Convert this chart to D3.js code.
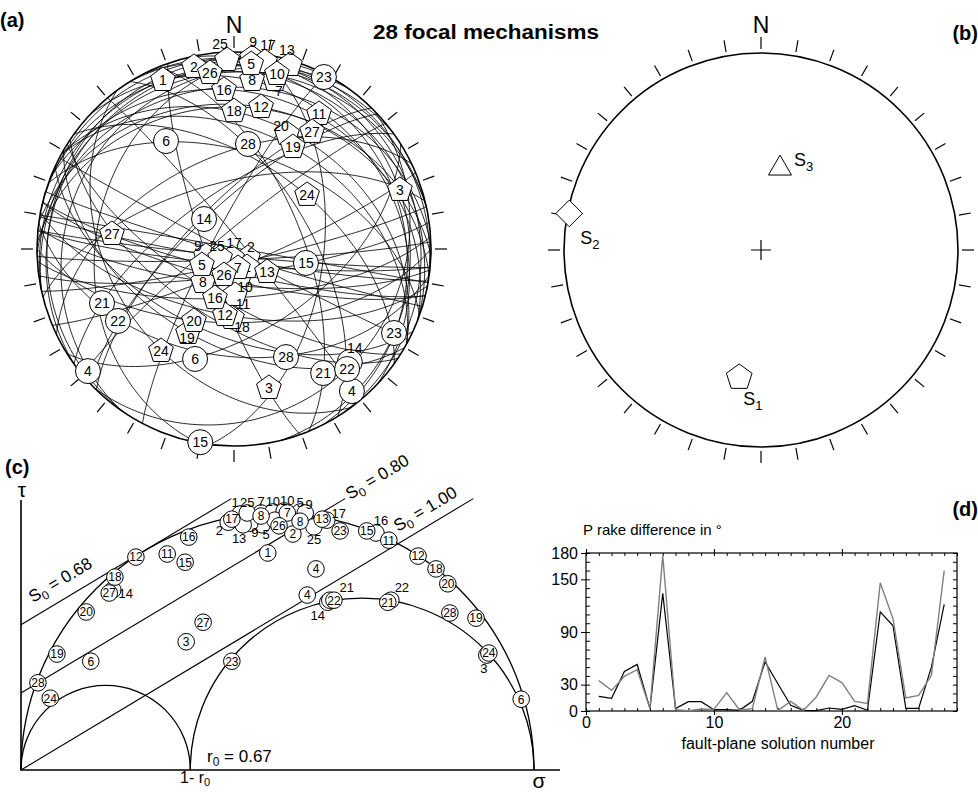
<!DOCTYPE html>
<html><head><meta charset="utf-8">
<script src="https://cdn.jsdelivr.net/npm/d3@7"></script>
<style>
body{margin:0;background:#fff;}
svg{font-family:"Liberation Sans",Arial,Helvetica,sans-serif;}
</style></head><body>
<svg id="chart" width="978" height="792"></svg>
<script>
// ================= DATA =================
const mechanismIds = [1,2,3,4,5,6,7,8,9,10,11,12,13,14,15,16,17,18,19,20,21,22,23,24,25,26,27,28];
const mechanismSymbol = ["pentagon","pentagon","pentagon","circle","pentagon","circle","pentagon","pentagon","pentagon","pentagon",
  "pentagon","pentagon","pentagon","circle","circle","pentagon","pentagon","pentagon","pentagon","pentagon",
  "circle","circle","circle","pentagon","pentagon","pentagon","pentagon","circle"];
// poles of nodal plane A / B (= slip vectors), trend & plunge in degrees, lower hemisphere
const poleATrend  = [337.2,347.6,70.4,230.1,5.3,327.8,13.6,6.1,5.4,13.8,32.2,10.8,16.9,315.0,101.0,356.4,9.4,0.0,30.0,24.7,247.7,238.2,27.6,53.5,357.9,352.2,33.7,7.6];
const poleAPlunge = [7.7,6.0,11.6,3.8,6.4,35.5,12.8,14.8,3.0,9.4,20.1,27.5,2.7,72.5,59.5,20.2,4.3,30.7,40.0,35.9,28.4,31.3,1.7,51.9,4.5,10.8,29.3,45.3];
const poleBTrend  = [144.2,122.7,165.9,140.3,243.4,199.5,168.1,223.2,256.0,167.5,178.8,187.8,124.9,134.3,189.9,201.2,192.5,181.7,208.7,209.1,144.3,136.7,117.7,215.6,237.3,201.0,277.0,154.3];
const poleBPlunge = [80.8,83.2,28.1,7.0,75.2,40.5,82.0,71.3,78.1,78.6,71.0,62.3,73.4,19.0,0.5,68.2,86.2,61.3,49.8,55.6,23.5,17.4,9.1,36.5,83.2,78.5,37.6,39.0];
// labels drawn beside hidden symbols in (a): [id, plane, dx, dy]
const stereoLabelShifts = [[25,"A",-7,-16],[9,"A",1,-16],[17,"A",3,-17],[13,"A",-3,-15],[7,"A",4,11],[20,"A",-6,-8],
  [9,"B",-8,-10],[25,"B",-3,-12],[17,"B",2,-15],[2,"B",3,-11],[10,"B",5,11],[11,"B",8,9],[18,"B",10,9],[19,"B",-1,5],[14,"B",5,-14]];
// symbols drawn underneath the others in (a)
const stereoBehind = [[8,"B"],[8,"A"],[2,"A"]];

// (b) principal stress axes
const stressNames   = ["1","2","3"];
const stressTrend   = [189.7,280.8,13.1];
const stressPlunge  = [34.7,1.0,55.0];
const stressSymbol  = ["pentagon","diamond","triangle"];

// (c) Mohr diagram, normalised normal stress sigma and shear stress tau for plane A / B
const mohrSigmaA = [0.481,0.530,0.322,0.575,0.544,0.136,0.468,0.468,0.554,0.491,0.285,0.224,0.587,0.179,0.320,0.327,0.411,0.183,0.070,0.127,0.602,0.610,0.622,0.057,0.441,0.503,0.172,0.033];
const mohrTauA   = [0.423,0.460,0.250,0.392,0.503,0.212,0.501,0.495,0.501,0.503,0.421,0.415,0.489,0.351,0.405,0.454,0.489,0.376,0.226,0.308,0.331,0.331,0.466,0.140,0.501,0.476,0.345,0.170];
const mohrSigmaB = [0.427,0.404,0.908,0.558,0.470,0.975,0.519,0.544,0.446,0.513,0.717,0.774,0.433,0.598,0.674,0.692,0.596,0.809,0.887,0.832,0.715,0.721,0.411,0.912,0.571,0.495,0.355,0.836];
const mohrTauB   = [0.499,0.483,0.224,0.341,0.478,0.138,0.501,0.485,0.481,0.505,0.448,0.417,0.478,0.327,0.466,0.462,0.487,0.392,0.296,0.363,0.327,0.331,0.212,0.228,0.474,0.487,0.288,0.306];
const mohrLabelShifts = [[1,"B",-5,-12],[2,"B",-9,8],[3,"B",-3,13],[5,"A",0,-10],[5,"B",4,10],[7,"A",0,-12],[9,"A",4,-9],[9,"B",5,9],
  [10,"A",0,-11],[10,"B",3,-11],[13,"B",-4,14],[14,"A",13,3],[14,"B",-10,13],[16,"B",5,-13],[17,"B",12,-7],[21,"A",17,-13],
  [22,"B",11,-13],[25,"A",0,-11],[25,"B",0,12]];
const mohrHidden = [[26,"B"]];
const r0 = 0.67;
const frictionMu = 0.6;
const s0Labels = ["0.68","0.80","1.00"];
const s0Intercepts = [0.283,0.150,0.0];
const s0TauEnd = 0.529;

// (d) P rake difference
const solutionNumbers = [1,2,3,4,5,6,7,8,9,10,11,12,13,14,15,16,17,18,19,20,21,22,23,24,25,26,27,28];
const rakeDiffBlack = [16.7,14.4,45,53,2.7,134,2.7,10.6,10.6,1.5,1.5,0.8,11,56,31,6.5,0.8,0.4,3.4,1.9,6,0.8,113,97,3,3,50,121.5];
const rakeDiffGray  = [34.6,23.5,39.5,47,2.7,177,1.5,0.4,2.3,1.9,21,1.1,2.7,61.5,0.4,11,0.8,16,40.6,32.3,11,8.7,146,105,14.8,17.8,40.6,160];
const rakeTickLabels = [0,30,90,150,180];
const solutionTickLabels = [0,10,20];

// ================= DRAWING =================
const svg = d3.select("#chart");
const toGeo = (t,p) => [180 - t, p];
function stereo(cx, cy, R){
  return d3.geoAzimuthalEqualArea().rotate([0,-90]).scale(R/Math.SQRT2).translate([cx,cy]).clipAngle(90).precision(0.2);
}
function pentagonPath(R){
  const pts = d3.range(5).map(k=>{const a=(-90+72*k)*Math.PI/180; return [R*Math.cos(a),R*Math.sin(a)];});
  return "M"+pts.map(p=>p.join(",")).join("L")+"Z";
}
function diamondPath(R){ return `M0,${-R}L${R},0L0,${R}L${-R},0Z`; }
function trianglePath(s){ const h=s*Math.sqrt(3)/2; return `M0,${-2*h/3}L${s/2},${h/3}L${-s/2},${h/3}Z`; }

function drawFrame(g, cx, cy, R){
  g.append("circle").attr("cx",cx).attr("cy",cy).attr("r",R).attr("fill","none").attr("stroke","#000").attr("stroke-width",1.6);
  d3.range(0,360,10).forEach(az=>{
    const a = az*Math.PI/180, sx=Math.sin(a), sy=-Math.cos(a);
    g.append("line").attr("x1",cx+sx*(R+4)).attr("y1",cy+sy*(R+4)).attr("x2",cx+sx*(R+16)).attr("y2",cy+sy*(R+16))
      .attr("stroke","#000").attr("stroke-width",1.2);
  });
  g.append("text").attr("x",cx).attr("y",33).attr("text-anchor","middle").attr("font-size",23).text("N");
}

// ---------- panel (a) ----------
const projA = stereo(234,249,197);
const pathA = d3.geoPath(projA);
const gA = svg.append("g");
const gcA = gA.append("g").attr("fill","none").attr("stroke","#000").attr("stroke-width",0.85);
mechanismIds.forEach((id,i)=>{
  [[poleATrend[i],poleAPlunge[i]],[poleBTrend[i],poleBPlunge[i]]].forEach(([t,p])=>{
    const ring = d3.geoCircle().center(toGeo(t,p)).radius(90).precision(1)().coordinates[0];
    gcA.append("path").attr("d", pathA({type:"LineString", coordinates: ring}));
  });
});
drawFrame(gA,234,249,197);

const shiftKey = (id,pl)=>id+pl;
const aShift = new Map(stereoLabelShifts.map(d=>[shiftKey(d[0],d[1]),[d[2],d[3]]]));
const aBehind = new Set(stereoBehind.map(d=>shiftKey(d[0],d[1])));
const aMarks = [];
mechanismIds.forEach((id,i)=>{
  aMarks.push({id,pl:"A",t:poleATrend[i],p:poleAPlunge[i],sym:mechanismSymbol[i]});
  aMarks.push({id,pl:"B",t:poleBTrend[i],p:poleBPlunge[i],sym:mechanismSymbol[i]});
});
aMarks.forEach(m=>{ m.xy = projA(toGeo(m.t,m.p)); m.shift = aShift.get(shiftKey(m.id,m.pl)); m.back = aBehind.has(shiftKey(m.id,m.pl)); });
const aOrder = aMarks.filter(m=>m.shift).concat(aMarks.filter(m=>!m.shift&&m.back), aMarks.filter(m=>!m.shift&&!m.back));
const gMA = gA.append("g");
aOrder.forEach(m=>{
  const g = gMA.append("g").attr("transform",`translate(${m.xy[0]},${m.xy[1]})`);
  if(m.sym==="circle") g.append("circle").attr("r",12.5).attr("fill","#fff").attr("stroke","#000").attr("stroke-width",1);
  else g.append("path").attr("d",pentagonPath(13)).attr("fill","#fff").attr("stroke","#000").attr("stroke-width",1);
  if(!m.shift) g.append("text").attr("text-anchor","middle").attr("dy","0.36em").attr("font-size",14).text(m.id);
});
aOrder.filter(m=>m.shift).forEach(m=>{
  gMA.append("text").attr("x",m.xy[0]+m.shift[0]).attr("y",m.xy[1]+m.shift[1]).attr("text-anchor","middle")
    .attr("dy","0.36em").attr("font-size",14).text(m.id);
});

svg.append("text").attr("x",0).attr("y",27).attr("font-size",20).attr("font-weight","bold").text("(a)");
svg.append("text").attr("x",373).attr("y",39).attr("font-size",20).attr("font-weight","bold")
  .attr("textLength",226).attr("lengthAdjust","spacingAndGlyphs").text(mechanismIds.length+" focal mechanisms");

// ---------- panel (b) ----------
const projB = stereo(761,250,197);
const gB = svg.append("g");
drawFrame(gB,761,250,197);
gB.append("path").attr("d","M751,250H771M761,240V260").attr("stroke","#000").attr("stroke-width",1.2);
const sLabelOff = [[4,28],[11,31],[14,-2]];
stressNames.forEach((n,i)=>{
  const xy = projB(toGeo(stressTrend[i],stressPlunge[i]));
  const d = stressSymbol[i]==="pentagon"?pentagonPath(13.5):stressSymbol[i]==="diamond"?diamondPath(13.3):trianglePath(23);
  gB.append("path").attr("transform",`translate(${xy[0]},${xy[1]})`).attr("d",d).attr("fill","#fff").attr("stroke","#000").attr("stroke-width",1);
  const t = gB.append("text").attr("x",xy[0]+sLabelOff[i][0]).attr("y",xy[1]+sLabelOff[i][1]).attr("font-size",18);
  t.append("tspan").text("S");
  t.append("tspan").attr("font-size",13).attr("dy",5).text(n);
});
svg.append("text").attr("x",978).attr("y",40).attr("text-anchor","end").attr("font-size",20).attr("font-weight","bold").text("(b)");

// ---------- panel (c) ----------
const xC = d3.scaleLinear().domain([0,1]).range([21,534]);
const yC = d3.scaleLinear().domain([0,1]).range([770,257]);
const gC = svg.append("g");
function semi(a,b){ const r=(xC(b)-xC(a))/2; return `M${xC(a)},${yC(0)}A${r},${r} 0 0 1 ${xC(b)},${yC(0)}`; }
[[0,1],[0,1-r0],[1-r0,1]].forEach(([a,b])=>gC.append("path").attr("d",semi(a,b)).attr("fill","none").attr("stroke","#000").attr("stroke-width",1.3));
gC.append("path").attr("d",`M${xC(0)},500V${yC(0)}H560`).attr("fill","none").attr("stroke","#000").attr("stroke-width",1.6);
const lineC = d3.line().x(d=>xC(d[0])).y(d=>yC(d[1]));
s0Intercepts.forEach(c=>{
  gC.append("path").attr("d",lineC([[0,c],[(s0TauEnd-c)/frictionMu,s0TauEnd]])).attr("fill","none").attr("stroke","#000").attr("stroke-width",1.1);
});
const ang = -Math.atan(frictionMu)*180/Math.PI;
const s0Pos = [[33,603],[350,500],[398,532]];
s0Labels.forEach((l,i)=>{
  const t = gC.append("text").attr("transform",`translate(${s0Pos[i][0]},${s0Pos[i][1]}) rotate(${ang})`).attr("font-size",17);
  t.append("tspan").text("S");
  t.append("tspan").attr("font-size",12).attr("dy",4).text("0");
  t.append("tspan").attr("dy",-4).text(" = "+l);
});
gC.append("text").attr("x",22).attr("y",497).attr("text-anchor","middle").attr("font-size",21).text("τ");
gC.append("text").attr("x",539).attr("y",788).attr("text-anchor","middle").attr("font-size",21).text("σ");
const r0t = gC.append("text").attr("x",207).attr("y",762).attr("font-size",17);
r0t.append("tspan").text("r"); r0t.append("tspan").attr("font-size",12).attr("dy",4).text("0"); r0t.append("tspan").attr("dy",-4).text(" = "+r0.toFixed(2));
const omr = gC.append("text").attr("x",180).attr("y",783).attr("font-size",16);
omr.append("tspan").text("1- r"); omr.append("tspan").attr("font-size",11).attr("dy",3).text("0");

const cShift = new Map(mohrLabelShifts.map(d=>[shiftKey(d[0],d[1]),[d[2],d[3]]]));
const cHidden = new Set(mohrHidden.map(d=>shiftKey(d[0],d[1])));
const cPts = [];
mechanismIds.forEach((id,i)=>{
  cPts.push({id,pl:"A",s:mohrSigmaA[i],t:mohrTauA[i]});
  cPts.push({id,pl:"B",s:mohrSigmaB[i],t:mohrTauB[i]});
});
cPts.forEach(m=>{ m.shift=cShift.get(shiftKey(m.id,m.pl)); m.hidden=cHidden.has(shiftKey(m.id,m.pl)); });
const cOrder = cPts.filter(m=>m.shift||m.hidden).concat(cPts.filter(m=>!m.shift&&!m.hidden));
cOrder.forEach(m=>{
  const g = gC.append("g").attr("transform",`translate(${xC(m.s)},${yC(m.t)})`);
  g.append("circle").attr("r",8.3).attr("fill","#fff").attr("stroke","#000").attr("stroke-width",1);
  if(!m.shift&&!m.hidden) g.append("text").attr("text-anchor","middle").attr("dy","0.36em").attr("font-size",12).attr("fill","#000").text(m.id);
});
cOrder.filter(m=>m.shift).forEach(m=>{
  gC.append("text").attr("x",xC(m.s)+m.shift[0]).attr("y",yC(m.t)+m.shift[1]).attr("text-anchor","middle").attr("dy","0.36em").attr("font-size",13).text(m.id);
});
svg.append("text").attr("x",5).attr("y",474).attr("font-size",20).attr("font-weight","bold").text("(c)");

// ---------- panel (d) ----------
const xD = d3.scaleLinear().domain([0,29]).range([586,957]);
const yD = d3.scaleLinear().domain([0,180]).range([711,553]);
const gD = svg.append("g");
const styleAxis = g=>{ g.selectAll(".domain").remove(); g.selectAll("line").attr("stroke","#000"); g.selectAll("text").attr("font-size",16).attr("font-family",'"Liberation Sans",Arial,sans-serif').attr("fill","#000"); };
gD.append("g").attr("transform",`translate(${xD(0)},0)`).call(d3.axisRight(yD).tickValues(d3.range(0,181,10)).tickSize(4).tickFormat("")).call(styleAxis);
gD.append("g").attr("transform",`translate(${xD(29)},0)`).call(d3.axisLeft(yD).tickValues(d3.range(0,181,10)).tickSize(4).tickFormat("")).call(styleAxis);
gD.append("g").attr("transform",`translate(0,${yD(180)})`).call(d3.axisBottom(xD).tickValues(d3.range(0,30,1)).tickSize(3).tickFormat("")).call(styleAxis);
gD.append("g").attr("transform",`translate(0,${yD(0)})`).call(d3.axisTop(xD).tickValues(d3.range(0,30,1)).tickSize(3).tickFormat("")).call(styleAxis);
gD.append("g").attr("transform",`translate(${xD(0)},0)`).call(d3.axisLeft(yD).tickValues(rakeTickLabels).tickSize(5).tickPadding(3)).call(styleAxis);
gD.append("g").attr("transform",`translate(0,${yD(0)})`).call(d3.axisBottom(xD).tickValues(solutionTickLabels).tickSize(4).tickPadding(2)).call(styleAxis);
gD.append("g").attr("transform",`translate(0,${yD(180)})`).call(d3.axisTop(xD).tickValues(solutionTickLabels).tickSize(4).tickFormat("")).call(styleAxis);
gD.append("rect").attr("x",xD(0)).attr("y",yD(180)).attr("width",xD(29)-xD(0)).attr("height",yD(0)-yD(180)).attr("fill","none").attr("stroke","#000").attr("stroke-width",1.2);
const lineD = d3.line().x((d,i)=>xD(solutionNumbers[i])).y(d=>yD(d));
gD.append("path").attr("d",lineD(rakeDiffBlack)).attr("fill","none").attr("stroke","#000").attr("stroke-width",1.2);
gD.append("path").attr("d",lineD(rakeDiffGray)).attr("fill","none").attr("stroke","#808080").attr("stroke-width",1.4);
gD.append("text").attr("x",583).attr("y",535).attr("font-size",15).text("P rake difference in °");
gD.append("text").attr("x",778).attr("y",749).attr("text-anchor","middle").attr("font-size",16).text("fault-plane solution number");
svg.append("text").attr("x",978).attr("y",516).attr("text-anchor","end").attr("font-size",20).attr("font-weight","bold").text("(d)");
</script>
</body></html>
